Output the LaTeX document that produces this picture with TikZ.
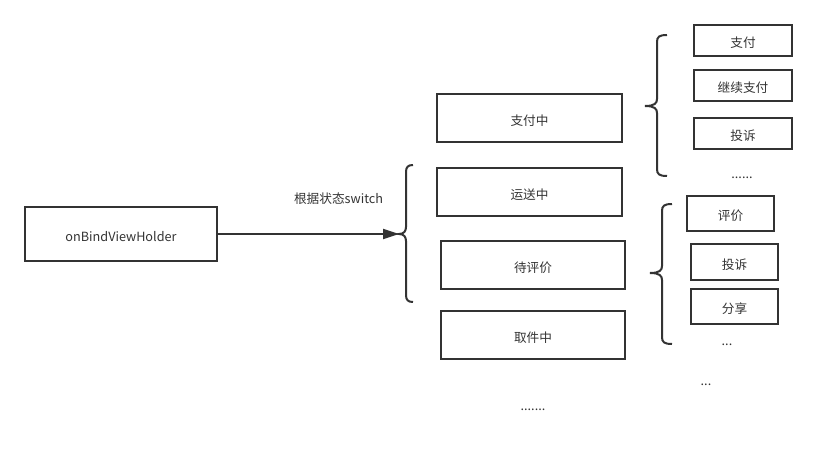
\documentclass[tikz,border=0pt]{standalone}
\usepackage{fontspec}
\setmainfont{Noto Sans CJK SC}
\usetikzlibrary{arrows.meta}
\definecolor{ink}{HTML}{333333}
\newcommand\tx[1]{\raisebox{-1.8pt}[\height][\depth]{#1}}
\newcommand\mybrace[6]{% endx, vx, tipx, topy, tipy, boty
  \draw[bracel] (#1,#4) .. controls ({#2+2},#4) and (#2,{#4+2}) .. (#2,{#4+7})
    -- (#2,{#5-7}) .. controls (#2,{#5-3}) and ({#2-2},#5) .. (#3,#5)
    .. controls ({#2-2},#5) and (#2,{#5+3}) .. (#2,{#5+7})
    -- (#2,{#6-7}) .. controls (#2,{#6-2}) and ({#2+2},#6) .. (#1,#6);}
\begin{document}
\begin{tikzpicture}[x=0.75pt,y=-0.75pt,
  box/.style={draw=ink, line width=1.5pt, inner sep=0pt, text=ink, font=\fontsize{9.5pt}{11pt}\selectfont},
  bigbox/.style={box, minimum width=138.75pt, minimum height=36pt},
  smallbox/.style={box, minimum width=73.5pt, minimum height=23.25pt},
  midbox/.style={box, minimum width=65.25pt, minimum height=26.5pt},
  lbl/.style={text=ink, inner sep=0pt, font=\fontsize{9.5pt}{11pt}\selectfont},
  bracel/.style={draw=ink, line width=1.5pt}]
\useasboundingbox (0,0) rectangle (828,449);
\node[box, minimum width=144pt, minimum height=40.5pt] (ob) at (121,234) {\tx{onBindViewHolder}};
\node[lbl] (sw) at (338.5,199) {根据状态switch};
\node[bigbox] (s1) at (529.5,118) {\tx{支付中}};
\node[bigbox] (s2) at (529.5,192) {\tx{运送中}};
\node[bigbox, minimum width=138pt] (s3) at (533,265) {\tx{待评价}};
\node[bigbox, minimum width=138pt] (s4) at (533,335) {\tx{取件中}};
\node[lbl] (d1) at (533,410) {.......};
\node[smallbox] (a1) at (743,40.5) {\tx{支付}};
\node[smallbox] (a2) at (743,85.5) {\tx{继续支付}};
\node[smallbox] (a3) at (743,133.5) {\tx{投诉}};
\node[lbl] (d2) at (742,178) {......};
\node[midbox] (b1) at (730.5,213.5) {\tx{评价}};
\node[midbox] (b2) at (734.5,262) {\tx{投诉}};
\node[midbox] (b3) at (734.5,306.5) {\tx{分享}};
\node[lbl] (d3) at (727,345) {...};
\node[lbl] (d4) at (706,385) {...};
\mybrace{413}{406}{399}{165}{234}{302}
\mybrace{667}{657}{645}{35}{106}{176}
\mybrace{672}{662}{650}{204}{273}{344}
\coordinate (tip) at (399,234);
\draw[draw=ink, line width=1.5pt, -{Triangle[length=12pt, width=7.5pt]}] (ob.east) -- (tip);
\end{tikzpicture}
\end{document}
